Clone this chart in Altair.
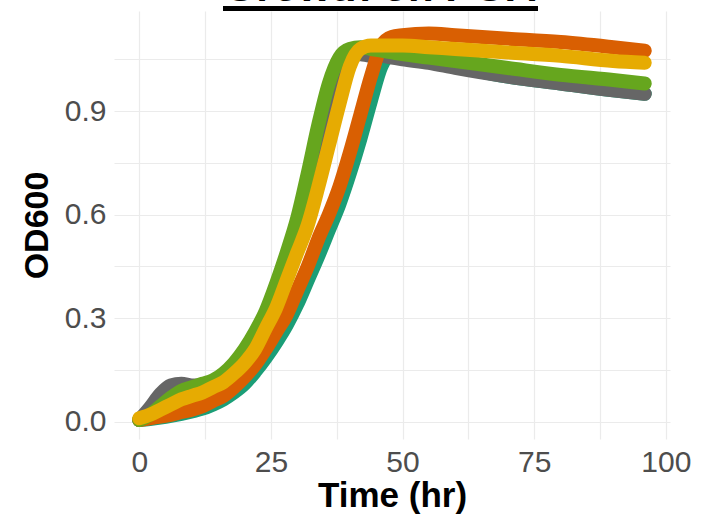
import altair as alt
import pandas as pd

title_text = "Growth on PGA"

times = [0, 2, 4, 6, 8, 10, 12, 14, 16, 18, 20, 22, 24, 26, 28, 30, 32, 34, 36, 38,
         40, 42, 44, 46, 48, 50, 55, 60, 70, 80, 90, 96]

teal = [0.005, 0.008, 0.012, 0.017, 0.023, 0.03, 0.038, 0.05, 0.065, 0.085, 0.11, 0.145,
        0.185, 0.23, 0.28, 0.34, 0.41, 0.48, 0.555, 0.63, 0.72, 0.82, 0.93, 1.03, 1.065,
        1.06, 1.045, 1.03, 1.0, 0.98, 0.96, 0.95]
gray = [0.005, 0.04, 0.08, 0.105, 0.11, 0.105, 0.105, 0.115, 0.13, 0.16, 0.20, 0.25,
        0.31, 0.38, 0.47, 0.57, 0.69, 0.83, 0.95, 1.03, 1.06, 1.065, 1.06, 1.06, 1.055,
        1.05, 1.04, 1.025, 1.0, 0.98, 0.96, 0.95]
orange = [0.005, 0.01, 0.015, 0.02, 0.028, 0.035, 0.045, 0.06, 0.075, 0.10, 0.13, 0.165,
          0.21, 0.26, 0.31, 0.38, 0.45, 0.53, 0.60, 0.68, 0.78, 0.89, 1.0, 1.09, 1.115,
          1.12, 1.125, 1.12, 1.11, 1.10, 1.085, 1.075]
green = [0.005, 0.02, 0.045, 0.07, 0.09, 0.10, 0.11, 0.12, 0.14, 0.17, 0.21, 0.26,
         0.32, 0.40, 0.49, 0.59, 0.72, 0.86, 0.98, 1.055, 1.08, 1.085, 1.08, 1.075, 1.07,
         1.065, 1.055, 1.045, 1.025, 1.005, 0.99, 0.98]
yellow = [0.01, 0.02, 0.035, 0.05, 0.065, 0.075, 0.085, 0.10, 0.115, 0.14, 0.17, 0.21,
          0.27, 0.33, 0.41, 0.49, 0.57, 0.68, 0.80, 0.92, 1.03, 1.08, 1.09, 1.09, 1.09,
          1.09, 1.085, 1.08, 1.07, 1.06, 1.045, 1.04]

series = [
    ("teal", teal, "#1B9E77"),
    ("gray", gray, "#666666"),
    ("orange", orange, "#D95F02"),
    ("green", green, "#66A61E"),
    ("yellow", yellow, "#E6AB02"),
]

x_values = [0, 12.5, 25, 37.5, 50, 62.5, 75, 87.5, 100]
y_values = [0.0, 0.15, 0.3, 0.45, 0.6, 0.75, 0.9, 1.05]

FONT = "Liberation Sans"

x_enc = alt.X(
    "time:Q",
    title="Time (hr)",
    scale=alt.Scale(domain=[-4.8, 100.8], nice=False, zero=False),
    axis=alt.Axis(
        values=x_values,
        labelExpr="datum.value % 25 == 0 ? datum.label : ''",
        grid=True, gridColor="#ebebeb", gridWidth=1.2,
        ticks=False, domain=False,
        labelFont=FONT, labelFontSize=30, labelColor="#4d4d4d", labelPadding=8,
        titleFont=FONT, titleFontSize=35, titleFontWeight="bold", titleColor="#000000",
        titlePadding=1,
    ),
)
y_enc = alt.Y(
    "od:Q",
    title="OD600",
    scale=alt.Scale(domain=[-0.05, 1.19], nice=False, zero=False),
    axis=alt.Axis(
        values=y_values,
        format=".1f",
        labelExpr="indexof(['0.0','0.3','0.6','0.9'], datum.label) >= 0 ? datum.label : ''",
        grid=True, gridColor="#ebebeb", gridWidth=1.2,
        ticks=False, domain=False,
        labelFont=FONT, labelFontSize=30, labelColor="#4d4d4d", labelPadding=8,
        titleFont=FONT, titleFontSize=34, titleFontWeight="bold", titleColor="#000000",
        titlePadding=10,
    ),
)

layers = []
for name, vals, col in series:
    df = pd.DataFrame({"time": times, "od": vals, "series": name})
    layers.append(
        alt.Chart(df).mark_line(
            color=col, strokeWidth=14, strokeCap="round", strokeJoin="round",
            interpolate="monotone",
        ).encode(x=x_enc, y=y_enc)
    )

title_df = pd.DataFrame({"label": [title_text]})
title_layer = alt.Chart(title_df).mark_text(
    font=FONT, fontSize=42, fontWeight="bold", color="#000000",
    align="center", baseline="alphabetic",
).encode(text="label:N", x=alt.value(266), y=alt.value(-10))
underline = alt.Chart(title_df).mark_rule(color="#000000", strokeWidth=5).encode(
    x=alt.value(109), x2=alt.value(424), y=alt.value(-2.5)
)

chart = alt.layer(*layers, title_layer, underline).properties(
    width=556, height=428,
    autosize=alt.AutoSizeParams(type="none"),
    padding={"left": 114, "top": 11, "right": 43, "bottom": 76},
    background="#ffffff",
).configure_view(stroke=None)

chart.save("out.html", embed_options={"renderer": "svg", "actions": False})
